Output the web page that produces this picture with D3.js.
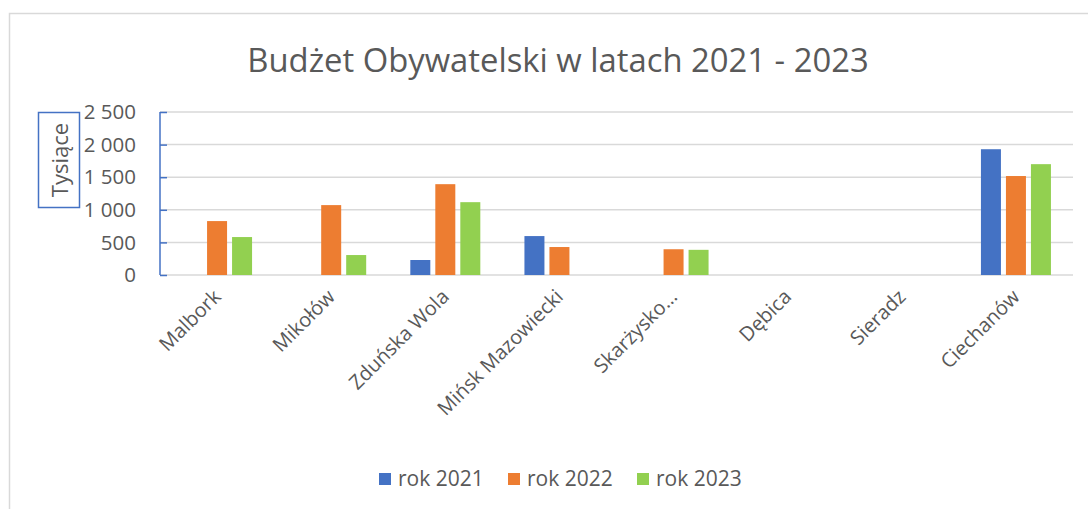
<!DOCTYPE html>
<html>
<head>
<meta charset="utf-8">
<script src="https://cdn.jsdelivr.net/npm/d3@7"></script>
<style>
  html, body { margin: 0; padding: 0; background: #fff; }
  svg { display: block; font-family: "Open Sans", "Noto Sans", sans-serif; }
</style>
</head>
<body>
<svg id="chart" width="1088" height="509"></svg>
<script>
// ---- data ----
const categories = ["Malbork", "Mikołów", "Zduńska Wola", "Mińsk Mazowiecki", "Skarżysko…", "Dębica", "Sieradz", "Ciechanów"];
const seriesNames = ["rok 2021", "rok 2022", "rok 2023"];
const rok2021 = [null, null, 230, 597, null, null, null, 1929];
const rok2022 = [827, 1072, 1393, 429, 395, null, null, 1518];
const rok2023 = [582, 306, 1117, null, 386, null, null, 1700];
const yTicks = [0, 500, 1000, 1500, 2000, 2500];
const title = "Budżet Obywatelski w latach 2021 - 2023";
const yTitle = "Tysiące";
const colors = ["#4472C4", "#ED7D31", "#92D050"];

const seriesValues = [rok2021, rok2022, rok2023];

const svg = d3.select("#chart");
const plot = { left: 160, right: 1073, top: 112, bottom: 275 };

// chart border
svg.append("rect")
  .attr("x", 9.5).attr("y", 13.5)
  .attr("width", 1200).attr("height", 600)
  .attr("fill", "none").attr("stroke", "#d9d9d9").attr("stroke-width", 1.5);

const x0 = d3.scaleBand().domain(categories).range([plot.left, plot.right]).paddingInner(0).paddingOuter(0);
const x1 = d3.scaleBand().domain(seriesNames).range([0, 70]).paddingInner(0.2).paddingOuter(0);
const y = d3.scaleLinear().domain([0, 2500]).range([plot.bottom, plot.top]);

// gridlines
svg.append("g").selectAll("line").data(yTicks).join("line")
  .attr("x1", plot.left).attr("x2", plot.right)
  .attr("y1", d => y(d)).attr("y2", d => y(d))
  .attr("stroke", "#d9d9d9").attr("stroke-width", 1.5);

// y axis (blue line, inner ticks)
const yAxis = d3.axisRight(y).tickValues(yTicks).tickSize(7).tickFormat("");
const yg = svg.append("g").attr("transform", `translate(${plot.left},0)`).call(yAxis);
yg.select(".domain").attr("stroke", "#4472C4").attr("stroke-width", 1.5).attr("d", `M0,${plot.top}V${plot.bottom}`);
yg.selectAll(".tick line").attr("stroke", "#4472C4").attr("stroke-width", 1.5);

// y tick labels
const fmt = v => d3.format(",")(v).replace(/,/g, " ");
svg.append("g").selectAll("text").data(yTicks).join("text")
  .attr("x", 136).attr("y", d => y(d))
  .attr("dy", "0.35em")
  .attr("text-anchor", "end")
  .attr("font-size", 20.5).attr("fill", "#595959")
  .text(d => fmt(d));

// y axis title box
svg.append("rect")
  .attr("x", 38.5).attr("y", 112.5).attr("width", 41).attr("height", 95)
  .attr("fill", "none").attr("stroke", "#4472C4").attr("stroke-width", 1.5);
svg.append("text")
  .attr("transform", "translate(68,160) rotate(-90)")
  .attr("text-anchor", "middle")
  .attr("font-size", 22).attr("fill", "#595959")
  .text(yTitle);

// bars
const groups = svg.append("g").selectAll("g").data(categories).join("g")
  .attr("transform", d => `translate(${x0(d) + x0.bandwidth() / 2 - 35},0)`);
groups.selectAll("rect")
  .data((c, i) => seriesNames.map((s, j) => ({ s, j, v: seriesValues[j][i] })).filter(d => d.v != null))
  .join("rect")
  .attr("x", d => x1(d.s))
  .attr("width", x1.bandwidth())
  .attr("y", d => y(d.v))
  .attr("height", d => y(0) - y(d.v))
  .attr("fill", d => colors[d.j]);

// x labels
svg.append("g").selectAll("text").data(categories).join("text")
  .attr("transform", d => `translate(${x0(d) + x0.bandwidth() / 2 + 5},${plot.bottom + 23}) rotate(-45)`)
  .attr("text-anchor", "end")
  .attr("font-size", 20).attr("fill", "#595959")
  .text(d => d);

// title
svg.append("text")
  .attr("x", 558).attr("y", 72)
  .attr("text-anchor", "middle")
  .attr("font-size", 32.8).attr("fill", "#595959")
  .text(title);

// legend
const legendX = [379, 508, 637];
const lg = svg.append("g").selectAll("g").data(seriesNames).join("g")
  .attr("transform", (d, i) => `translate(${legendX[i]},479)`);
lg.append("rect").attr("x", 0).attr("y", -6).attr("width", 12).attr("height", 12)
  .attr("fill", (d, i) => colors[i]);
lg.append("text").attr("x", 19).attr("y", 0).attr("dy", "0.35em")
  .attr("font-size", 21).attr("fill", "#595959")
  .text(d => d);
</script>
</body>
</html>
